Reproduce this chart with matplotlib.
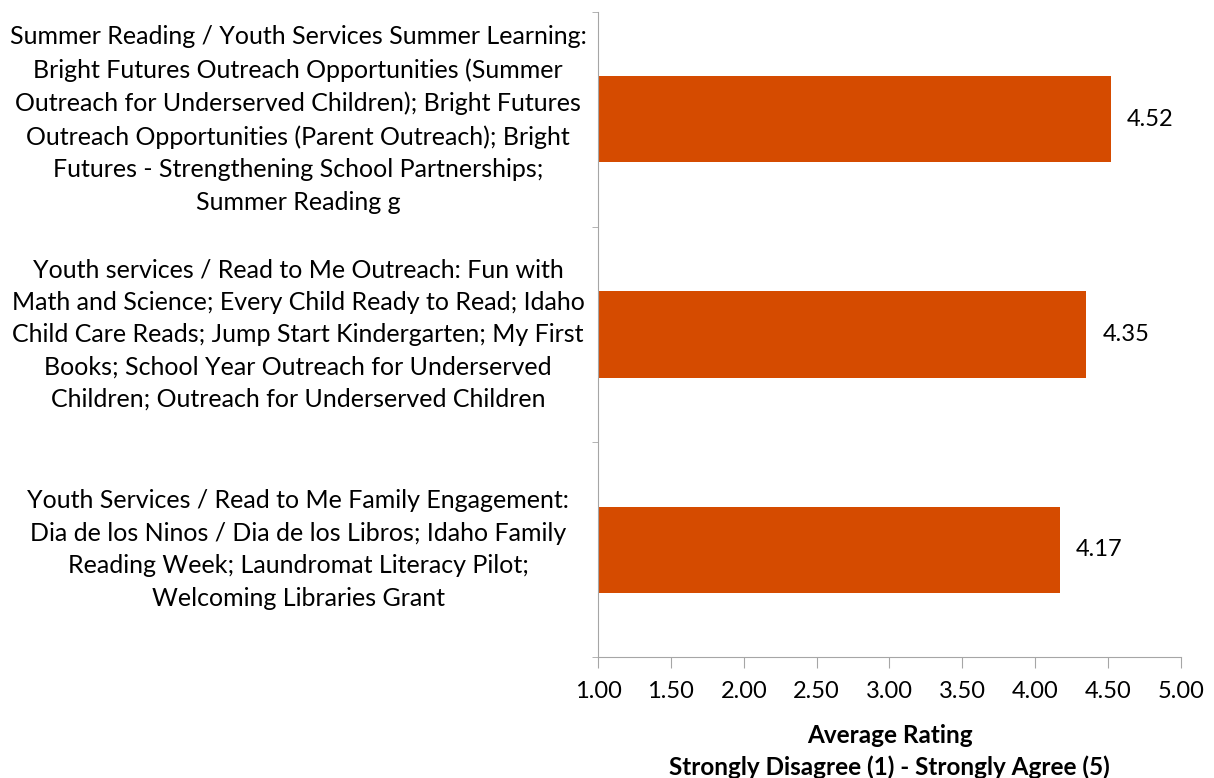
import numpy as np
import matplotlib.pyplot as plt

plt.rcParams['font.family'] = ['Lato', 'DejaVu Sans']

"""DATA"""
categories = [
    "Summer Reading / Youth Services Summer Learning:\nBright Futures Outreach Opportunities (Summer\n"
    "Outreach for Underserved Children); Bright Futures\nOutreach Opportunities (Parent Outreach); Bright\n"
    "Futures - Strengthening School Partnerships;\nSummer Reading g",
    "Youth services / Read to Me Outreach: Fun with\nMath and Science; Every Child Ready to Read; Idaho\n"
    "Child Care Reads; Jump Start Kindergarten; My First\nBooks; School Year Outreach for Underserved\n"
    "Children; Outreach for Underserved Children",
    "Youth Services / Read to Me Family Engagement:\nDia de los Ninos / Dia de los Libros; Idaho Family\n"
    "Reading Week; Laundromat Literacy Pilot;\nWelcoming Libraries Grant",
]
ratings = [4.52, 4.35, 4.17]
xticks = [1.0, 1.5, 2.0, 2.5, 3.0, 3.5, 4.0, 4.5, 5.0]

"""PLOTTING"""
fig = plt.figure(figsize=(12.14, 7.78), dpi=100)
ax = fig.add_axes([0.4926, 0.1555, 0.4802, 0.8291])

pos = np.arange(len(categories))
ax.barh(pos, np.array(ratings) - 1, left=1, height=0.4, color='#D54B00')
for p, r in zip(pos, ratings):
    ax.text(r + 0.11, p, "%.2f" % r, va='center', ha='left', fontsize=17)

ax.set_xlim(1, 5)
ax.set_ylim(2.5, -0.5)
ax.set_xticks(xticks)
ax.set_xticklabels(["%.2f" % t for t in xticks], fontsize=17)
ax.set_yticks(pos)
ax.set_yticklabels(categories, fontsize=18, ha='center', va='center', linespacing=1.5)
ax.tick_params(axis='y', length=0, pad=216)
ax.set_yticks([-0.5, 0.5, 1.5, 2.5], minor=True)
ax.tick_params(axis='y', which='minor', length=4, color='#a6a6a6')
ax.tick_params(axis='x', length=8, color='#a6a6a6', pad=9)

for s in ['top', 'right']:
    ax.spines[s].set_visible(False)
for s in ['left', 'bottom']:
    ax.spines[s].set_color('#a6a6a6')

ax.set_xlabel("Average Rating\nStrongly Disagree (1) - Strongly Agree (5)",
              fontsize=17.5, fontweight='bold', labelpad=16, linespacing=1.45)

plt.savefig('out.png')
